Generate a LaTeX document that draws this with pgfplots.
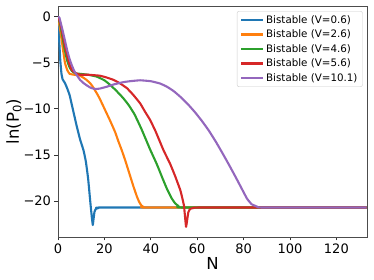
\documentclass[border=0pt]{standalone}
\usepackage{fontspec}
\setmainfont{DejaVu Sans}
\usepackage{pgfplots}
\pgfplotsset{compat=1.18}
\definecolor{tabblue}{HTML}{1F77B4}
\definecolor{taborange}{HTML}{FF7F0E}
\definecolor{tabgreen}{HTML}{2CA02C}
\definecolor{tabred}{HTML}{D62728}
\definecolor{tabpurple}{HTML}{9467BD}
\begin{document}
\begin{tikzpicture}
\begin{axis}[
  scale only axis, width=309pt, height=231pt,
  at={(0,0)}, anchor=south west,
  xmin=0, xmax=133.2, ymin=-23.9, ymax=1.16,
  xtick={0,20,40,60,80,100,120},
  ytick={-20,-15,-10,-5,0},
  yticklabels={−20,−15,−10,−5,0},
  /pgf/number format/assume math mode=true,
  tick label style={font=\fontsize{13}{15}\selectfont},
  tick align=outside, xtick pos=left, ytick pos=left,
  major tick length=3.5pt,
  tick style={black!80, line width=0.8pt},
  axis line style={black!70, line width=0.9pt},
  xlabel={N}, ylabel={ln(P\textsubscript{0})},
  label style={font=\fontsize{16.5}{19}\selectfont},
  xlabel style={at={(axis description cs:0.5,0)}, anchor=center, yshift=-26pt},
  ylabel style={at={(axis description cs:0,0.5)}, anchor=center, yshift=44pt},
  legend style={at={(axis description cs:0.986,0.978)}, anchor=north east,
    font=\fontsize{10.3}{12}\selectfont, draw=black!20, rounded corners=2pt,
    fill=white, fill opacity=0.8, text opacity=1, inner xsep=3pt, inner ysep=2pt,
    row sep=1.2pt},
  legend cell align=left,
  legend image code/.code={\draw[#1] (0pt,0pt) -- (22pt,0pt);},
  every axis plot/.append style={line width=2.1pt, line join=round},
  clip=true,
]
\addplot[tabblue, smooth, tension=0.2] coordinates {
(0,0) (0.5,-2.5) (1,-4.8) (1.5,-6.2) (2,-6.8) (3,-7.2) (4,-7.8) (5,-8.5) (6,-9.6) (7,-10.7) (8,-11.8) (9.5,-13.3) (11,-14.5) (12,-15.7) (13,-17.6) (14,-20.3) (14.6,-21.8) (15,-22.6) (15.3,-22.0) (15.7,-21.2) (16.3,-20.85) (17.5,-20.75) (20,-20.7) (133,-20.7)};
\addlegendentry{Bistable (V=0.6)}
\addplot[taborange, smooth, tension=0.2] coordinates {
(0,0) (1,-1.5) (2,-3.3) (3,-5.0) (4,-5.8) (5,-6.2) (7,-6.3) (9.5,-6.4) (12,-6.8) (13.8,-7.2) (15,-7.6) (16.7,-8.3) (18,-8.9) (19.6,-9.75) (21,-10.5) (22.5,-11.3) (24.6,-12.5) (26,-13.5) (27.5,-14.5) (29,-15.6) (31,-17.2) (32.5,-18.4) (34,-19.5) (35,-20.1) (36,-20.5) (37,-20.65) (38.5,-20.7) (133,-20.7)};
\addlegendentry{Bistable (V=2.6)}
\addplot[tabgreen, smooth, tension=0.2] coordinates {
(0,0) (1,-0.9) (2,-2.3) (3,-3.7) (4,-4.8) (5,-5.5) (6,-5.9) (7.5,-6.15) (9.5,-6.2) (13,-6.3) (16.7,-6.5) (20,-6.9) (22.5,-7.4) (25,-8.0) (28,-8.8) (30.5,-9.6) (33,-10.6) (36,-12.2) (39.7,-14.4) (42.6,-16.0) (45,-17.5) (47,-18.7) (49,-19.7) (50.5,-20.25) (52,-20.55) (54,-20.7) (133,-20.7)};
\addlegendentry{Bistable (V=4.6)}
\addplot[tabred, smooth, tension=0.2] coordinates {
(0,0) (1,-0.7) (2,-1.9) (3,-3.2) (4,-4.3) (5,-5.2) (6,-5.8) (7.5,-6.1) (9.5,-6.3) (13,-6.3) (18,-6.4) (21,-6.6) (23.9,-6.85) (26.5,-7.2) (29.7,-7.75) (32.5,-8.5) (35.4,-9.4) (37.5,-10.3) (39.7,-11.2) (42,-12.4) (44,-13.6) (45.5,-14.5) (48.4,-16.0) (50.5,-17.3) (52.7,-18.8) (53.6,-19.7) (54.3,-20.5) (54.8,-21.8) (55.2,-22.8) (55.6,-22.2) (56.2,-21.2) (57,-20.85) (58.5,-20.75) (62,-20.7) (133,-20.7)};
\addlegendentry{Bistable (V=5.6)}
\addplot[tabpurple, smooth, tension=0.2] coordinates {
(0,0) (0.6,-0.1) (1,-0.5) (2,-1.5) (3,-2.6) (4,-3.7) (5,-4.6) (6,-5.3) (7,-5.9) (8,-6.3) (9.5,-6.85) (11,-7.2) (12.4,-7.45) (14,-7.7) (16,-7.85) (18,-7.8) (21,-7.6) (24,-7.35) (28.2,-7.1) (31,-7.0) (35.4,-6.9) (40,-7.0) (44,-7.25) (47,-7.6) (50,-8.1) (53,-8.75) (56,-9.5) (59,-10.35) (62,-11.3) (65,-12.35) (68,-13.55) (71,-14.85) (74,-16.2) (77,-17.6) (79.5,-18.8) (81.5,-19.75) (83.5,-20.35) (85.8,-20.6) (88,-20.7) (133,-20.7)};
\addlegendentry{Bistable (V=10.1)}
\end{axis}
\pgfresetboundingbox
\useasboundingbox (-58pt,-43pt) rectangle (316pt,237pt);
\end{tikzpicture}
\end{document}
